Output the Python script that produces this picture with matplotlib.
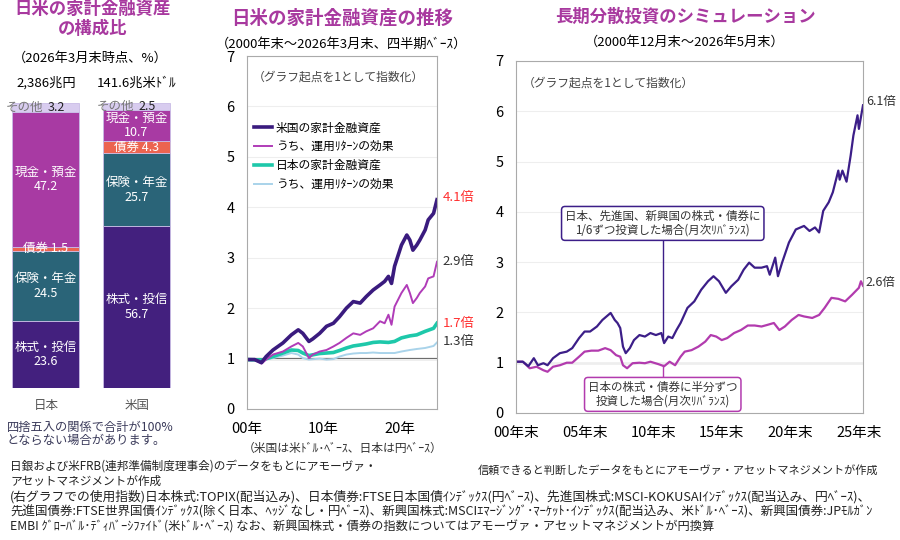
import matplotlib
matplotlib.use("Agg")
import matplotlib.pyplot as plt

plt.rcParams['font.family'] = ['Noto Sans CJK JP', 'DejaVu Sans']

# ---------------- data ----------------
# left: composition (%), bottom -> top
comp_labels = ['株式・投信', '保険・年金', '債券', '現金・預金', 'その他']
comp_jp = [23.6, 24.5, 1.5, 47.2, 3.2]
comp_us = [56.7, 25.7, 4.3, 10.7, 2.5]
comp_colors = ['#43207e', '#2a6478', '#ec6450', '#a83aa3', '#d8ccef']
countries = ['日本', '米国']
totals = ['2,386兆円', '141.6兆米ﾄﾞﾙ']

# middle: household assets (index, years since 2000 end)
us_t = [0, 1.0, 1.9, 2.5, 3.4, 4.7, 5.8, 6.7, 7.3, 8.1, 8.6, 9.5, 10.4, 11.3, 12.1, 13.0,
        13.9, 14.8, 15.6, 16.5, 17.4, 18.0, 18.5, 18.9, 19.3, 20.2, 20.9, 21.3, 21.7, 22.2,
        22.6, 23.3, 23.7, 24.4, 24.85]
us_total = [0.98, 0.98, 0.92, 1.04, 1.17, 1.31, 1.47, 1.57, 1.50, 1.34, 1.39, 1.50, 1.64,
            1.70, 1.83, 2.00, 2.13, 2.10, 2.23, 2.36, 2.46, 2.53, 2.63, 2.49, 2.83, 3.25,
            3.45, 3.35, 3.15, 3.25, 3.35, 3.55, 3.75, 3.88, 4.15]
us_return = [0.98, 0.97, 0.90, 0.98, 1.08, 1.14, 1.24, 1.31, 1.24, 1.01, 1.08, 1.14, 1.17,
             1.24, 1.31, 1.41, 1.50, 1.47, 1.54, 1.60, 1.74, 1.70, 1.87, 1.67, 2.03, 2.30,
             2.46, 2.30, 2.10, 2.20, 2.30, 2.43, 2.59, 2.63, 2.92]
jp_t = [0, 2.0, 3.4, 4.7, 5.8, 6.7, 7.3, 8.1, 9.5, 10.4, 11.3, 12.1, 13.0, 13.9, 14.8, 15.6,
        16.5, 17.4, 18.5, 19.3, 20.2, 21.3, 22.2, 23.3, 24.4, 24.85]
jp_total = [0.98, 0.97, 1.04, 1.11, 1.17, 1.16, 1.11, 1.06, 1.10, 1.11, 1.12, 1.16, 1.21,
            1.25, 1.27, 1.29, 1.32, 1.33, 1.32, 1.34, 1.41, 1.45, 1.47, 1.54, 1.60, 1.70]
jp_return = [0.98, 0.97, 1.01, 1.06, 1.11, 1.08, 1.01, 0.98, 1.00, 0.98, 0.99, 1.04, 1.08,
             1.10, 1.11, 1.11, 1.12, 1.11, 1.11, 1.11, 1.14, 1.17, 1.19, 1.21, 1.25, 1.32]

# right: simulation (index, years since 2000/12)
div_t = [0, 0.5, 0.9, 1.3, 1.6, 2.0, 2.3, 2.7, 3.2, 3.7, 4.1, 4.6, 5.0, 5.4, 5.9, 6.3, 6.6,
         6.9, 7.2, 7.4, 7.6, 7.8, 8.0, 8.3, 8.6, 9.0, 9.4, 9.8, 10.2, 10.6, 10.8, 11.1, 11.4,
         11.7, 12.0, 12.5, 13.0, 13.5, 14.0, 14.4, 14.8, 15.3, 15.7, 16.2, 16.6, 17.0, 17.4,
         17.9, 18.3, 18.5, 18.9, 19.1, 19.4, 19.9, 20.4, 21.0, 21.4, 21.8, 22.1, 22.4, 22.8,
         23.1, 23.5, 23.6, 23.8, 24.1, 24.4, 24.6, 24.9, 25.0, 25.3]
div_val = [1.02, 1.02, 0.93, 1.09, 0.95, 0.99, 0.95, 1.09, 1.19, 1.22, 1.29, 1.49, 1.62,
           1.62, 1.72, 1.85, 1.92, 1.99, 1.85, 1.79, 1.69, 1.32, 1.19, 1.29, 1.45, 1.55,
           1.52, 1.59, 1.55, 1.59, 1.39, 1.52, 1.49, 1.65, 1.79, 2.09, 2.22, 2.45, 2.62,
           2.72, 2.62, 2.39, 2.52, 2.65, 2.85, 2.99, 2.89, 2.89, 2.92, 2.75, 3.09, 2.72,
           2.99, 3.39, 3.65, 3.72, 3.62, 3.69, 3.59, 4.02, 4.19, 4.39, 4.82, 4.64, 4.82,
           4.60, 5.12, 5.52, 5.92, 5.65, 6.12]
half_t = [0, 0.5, 1.0, 1.5, 2.0, 2.3, 2.7, 3.2, 3.7, 4.1, 4.6, 5.0, 5.5, 6.0, 6.5, 6.9, 7.3,
          7.6, 7.8, 8.1, 8.5, 9.0, 9.4, 9.8, 10.4, 10.8, 11.2, 11.6, 12.0, 12.3, 12.8, 13.3,
          13.8, 14.2, 14.6, 15.0, 15.4, 15.9, 16.4, 16.9, 17.4, 17.9, 18.3, 18.8, 19.2, 19.6,
          20.1, 20.6, 21.0, 21.6, 22.1, 22.5, 23.0, 23.5, 24.0, 24.5, 25.0, 25.15, 25.3]
half_val = [1.02, 1.02, 0.89, 0.92, 0.85, 0.82, 0.92, 0.95, 1.00, 1.00, 1.12, 1.22, 1.24,
            1.24, 1.29, 1.25, 1.15, 1.12, 0.95, 0.89, 0.99, 1.00, 0.99, 1.02, 0.97, 0.93,
            1.02, 0.95, 1.12, 1.22, 1.25, 1.32, 1.42, 1.55, 1.52, 1.45, 1.49, 1.59, 1.65,
            1.74, 1.74, 1.72, 1.75, 1.79, 1.65, 1.72, 1.85, 1.95, 1.92, 1.89, 1.95, 2.09,
            2.29, 2.27, 2.22, 2.35, 2.49, 2.62, 2.53]

TITLE = '#a8399f'
W, H = 900, 540


def rect(x0, y0, x1, y1):
    return [x0 / W, 1 - y1 / H, (x1 - x0) / W, (y1 - y0) / H]


fig = plt.figure(figsize=(9, 5.4), dpi=100)

# -----------------------------
# 1. composition bars
# -----------------------------
fig.text(93 / W, 1 - 19 / H, '日米の家計金融資産\nの構成比', ha='center', va='center',
         fontsize=12.5, fontweight='bold', color=TITLE, linespacing=1.1)
fig.text(90 / W, 1 - 58 / H, '（2026年3月末時点、%）', ha='center', va='center', fontsize=9.5)
fig.text(46 / W, 1 - 83 / H, totals[0], ha='center', va='center', fontsize=9.5)
fig.text(137 / W, 1 - 83 / H, totals[1], ha='center', va='center', fontsize=9.5)

axb = fig.add_axes(rect(5, 103, 180, 388))
axb.set_xlim(-0.445, 1.478)
axb.set_ylim(0, 100)
axb.axis('off')
for i, vals in enumerate([comp_jp, comp_us]):
    bottom = 0
    for j, v in enumerate(vals):
        axb.bar(i, v, bottom=bottom, width=0.736, color=comp_colors[j],
                edgecolor='#c9bce6', linewidth=0.6)
        mid = bottom + v / 2
        if j == 4:
            axb.text(i - 0.02, mid, 'その他', ha='right', va='center', fontsize=9, color='#777777')
            axb.text(i + 0.02, mid, f'{v}', ha='left', va='center', fontsize=9, color='#222222')
        elif j == 2:
            axb.text(i, mid, f'{comp_labels[j]} {v}', ha='center', va='center',
                     fontsize=9, color='white')
        else:
            axb.text(i, mid, f'{comp_labels[j]}\n{v}', ha='center', va='center',
                     fontsize=9, color='white', linespacing=1.15)
        bottom += v

fig.text(46 / W, 1 - 406 / H, countries[0], ha='center', va='center', fontsize=9, color='#555555')
fig.text(137 / W, 1 - 406 / H, countries[1], ha='center', va='center', fontsize=9, color='#555555')
fig.text(7 / W, 1 - 434 / H, '四捨五入の関係で合計が100%\nとならない場合があります。', ha='left',
         va='center', fontsize=8.8, color='#3a3a5a', linespacing=1.0)

# -----------------------------
# 2. household assets lines
# -----------------------------
fig.text(342 / W, 1 - 18 / H, '日米の家計金融資産の推移', ha='center', va='center',
         fontsize=13.3, fontweight='bold', color=TITLE)
fig.text(342 / W, 1 - 44 / H, '（2000年末～2026年3月末、四半期ﾍﾞｰｽ）', ha='center', va='center',
         fontsize=9.5)

axm = fig.add_axes(rect(247, 56, 437, 409))
axm.plot(jp_t, jp_return, color='#a9d3ea', lw=1.4, label='うち、運用ﾘﾀｰﾝの効果')
axm.plot(jp_t, jp_total, color='#1ec8aa', lw=2.6, label='日本の家計金融資産')
axm.plot(us_t, us_return, color='#b03cb8', lw=1.4, label='うち、運用ﾘﾀｰﾝの効果')
axm.plot(us_t, us_total, color='#3a1b7e', lw=2.6, label='米国の家計金融資産')
axm.axhline(1, color='#666666', lw=1.6, zorder=1)
axm.set_xlim(0, 24.85)
axm.set_ylim(0, 7)
axm.set_yticks(range(8))
axm.set_xticks([0, 10, 20])
axm.set_xticklabels(['00年', '10年', '20年'])
axm.tick_params(length=0, labelsize=10.5, pad=9)
axm.grid(axis='y', color='#eeeeee', lw=0.8)
for s in axm.spines.values():
    s.set_color('#aaaaaa')
h, l = axm.get_legend_handles_labels()
axm.legend(h[::-1], l[::-1], loc='upper left', bbox_to_anchor=(0.0, 0.835), frameon=False,
           fontsize=8.5, handlelength=1.5, handletextpad=0.35, labelspacing=0.5,
           borderaxespad=0.2)
axm.text(0.03, 0.96, '（グラフ起点を1として指数化）', transform=axm.transAxes, ha='left',
         va='top', fontsize=8.5, color='#444444')
axm.text(1.03, us_total[-1] + 0.05, '4.1倍', transform=axm.get_yaxis_transform(),
         fontsize=9.5, color='#ff3030', va='center')
axm.text(1.03, us_return[-1] + 0.0, '2.9倍', transform=axm.get_yaxis_transform(),
         fontsize=9.5, color='#333333', va='center')
axm.text(1.03, jp_total[-1] - 0.0, '1.7倍', transform=axm.get_yaxis_transform(),
         fontsize=9.5, color='#ff3030', va='center')
axm.text(1.03, jp_return[-1] + 0.02, '1.3倍', transform=axm.get_yaxis_transform(),
         fontsize=9.5, color='#333333', va='center')
fig.text(343 / W, 1 - 448 / H, '（米国は米ﾄﾞﾙ･ﾍﾞｰｽ、日本は円ﾍﾞｰｽ）', ha='center', va='center',
         fontsize=8.5, color='#333333')

# -----------------------------
# 3. simulation lines
# -----------------------------
fig.text(685 / W, 1 - 17 / H, '長期分散投資のシミュレーション', ha='center', va='center',
         fontsize=12.5, fontweight='bold', color=TITLE)
fig.text(685 / W, 1 - 42 / H, '（2000年12月末～2026年5月末）', ha='center', va='center',
         fontsize=9.5)

axr = fig.add_axes(rect(516, 61, 863, 413))
axr.axhline(1, color='#bbbbbb', lw=1.0, zorder=1)
axr.plot(half_t, half_val, color='#b23bae', lw=1.6)
axr.plot(div_t, div_val, color='#3c1e88', lw=1.6)
axr.set_xlim(0, 25.3)
axr.set_ylim(0, 7)
axr.set_yticks(range(8))
axr.set_xticks([0, 5, 10, 15, 20, 25])
axr.set_xticklabels(['00年末', '05年末', '10年末', '15年末', '20年末', '25年末'])
axr.tick_params(length=0, labelsize=10.5, pad=9)
axr.grid(axis='y', color='#eeeeee', lw=0.8)
for s in axr.spines.values():
    s.set_color('#aaaaaa')
axr.text(0.02, 0.955, '（グラフ起点を1として指数化）', transform=axr.transAxes, ha='left',
         va='top', fontsize=8.5, color='#444444')
axr.text(1.008, 6.2, '6.1倍', transform=axr.get_yaxis_transform(), fontsize=9,
         color='#333333', va='center')
axr.text(1.008, 2.6, '2.6倍', transform=axr.get_yaxis_transform(), fontsize=9,
         color='#333333', va='center')

axr.plot([10.7, 10.7], [1.45, 3.45], color='#3c1e88', lw=1.0)
axr.text(10.7, 3.77, '日本、先進国、新興国の株式・債券に\n1/6ずつ投資した場合(月次ﾘﾊﾞﾗﾝｽ)',
         ha='center', va='center', fontsize=8.3, color='#333333', linespacing=1.1,
         bbox=dict(boxstyle='round,pad=0.3', fc='white', ec='#3c1e88', lw=1.1))
axr.plot([10.7, 10.7], [0.67, 0.95], color='#b23bae', lw=1.0)
axr.text(10.7, 0.37, '日本の株式・債券に半分ずつ\n投資した場合(月次ﾘﾊﾞﾗﾝｽ)',
         ha='center', va='center', fontsize=8.3, color='#333333', linespacing=1.1,
         bbox=dict(boxstyle='round,pad=0.3', fc='white', ec='#b23bae', lw=1.1))

# -----------------------------
# footer
# -----------------------------
fig.text(10 / W, 1 - 466 / H, '日銀および米FRB(連邦準備制度理事会)のデータをもとにアモーヴァ・',
         fontsize=8.4, va='center', color='#222222')
fig.text(10 / W, 1 - 481 / H, 'アセットマネジメントが作成', fontsize=8.4, va='center', color='#222222')
fig.text(478 / W, 1 - 470 / H, '信頼できると判断したデータをもとにアモーヴァ・アセットマネジメントが作成',
         fontsize=8.0, va='center', color='#222222')
fig.text(10 / W, 1 - 497 / H,
         '(右グラフでの使用指数)日本株式:TOPIX(配当込み)、日本債券:FTSE日本国債ｲﾝﾃﾞｯｸｽ(円ﾍﾞｰｽ)、'
         '先進国株式:MSCI-KOKUSAIｲﾝﾃﾞｯｸｽ(配当込み、円ﾍﾞｰｽ)、',
         fontsize=9.2, va='center', color='#222222')
fig.text(10 / W, 1 - 512 / H,
         '先進国債券:FTSE世界国債ｲﾝﾃﾞｯｸｽ(除く日本、ﾍｯｼﾞなし・円ﾍﾞｰｽ)、'
         '新興国株式:MSCIｴﾏｰｼﾞﾝｸﾞ･ﾏｰｹｯﾄ･ｲﾝﾃﾞｯｸｽ(配当込み、米ﾄﾞﾙ･ﾍﾞｰｽ)、新興国債券:JPﾓﾙｶﾞﾝ',
         fontsize=9.0, va='center', color='#222222')
fig.text(10 / W, 1 - 527 / H,
         'EMBI ｸﾞﾛｰﾊﾞﾙ･ﾃﾞｨﾊﾞｰｼﾌｧｲﾄﾞ(米ﾄﾞﾙ･ﾍﾞｰｽ) なお、新興国株式・債券の指数については'
         'アモーヴァ・アセットマネジメントが円換算',
         fontsize=8.8, va='center', color='#222222')

fig.savefig('out.png', dpi=100)
